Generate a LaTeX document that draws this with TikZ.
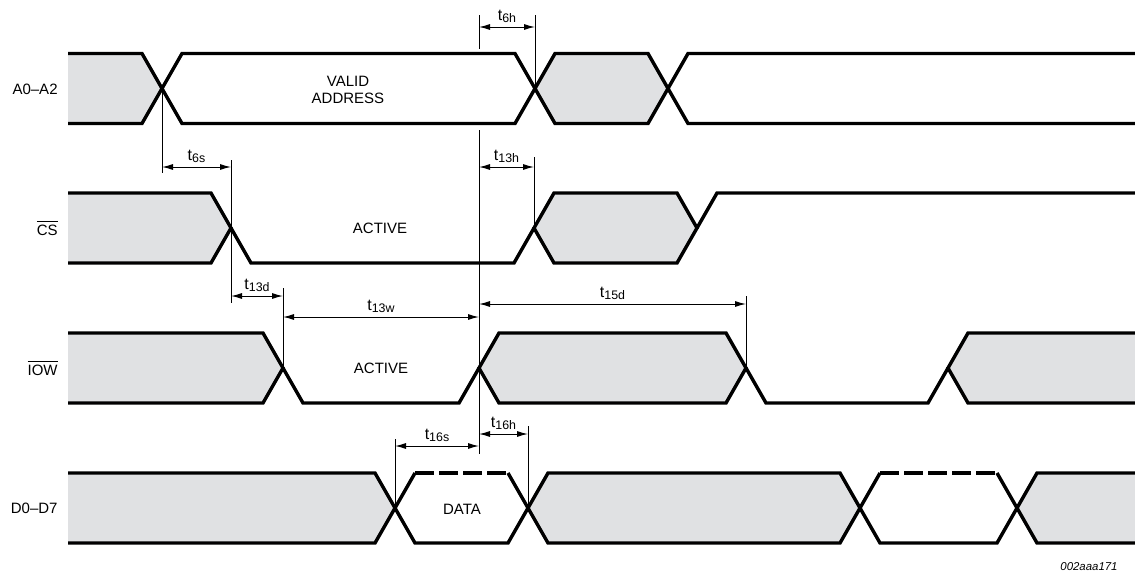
\documentclass[tikz,border=0pt]{standalone}
\usepackage{fontspec}
\setmainfont{Liberation Sans}
\usetikzlibrary{arrows.meta, calc}
\definecolor{busgray}{RGB}{224,225,227}
\newcommand{\tsub}[1]{{\fontsize{8}{9}\selectfont t}\raisebox{-0.3ex}{\fontsize{6.2}{7}\selectfont #1}}
\tikzset{
    wave/.style = {line width=1.7pt, miter limit=1.5},
    dimline/.style = {line width=0.5pt},
    dimarrow/.style = {line width=0.5pt, {Latex[length=5.5pt,width=3pt]}-{Latex[length=5.5pt,width=3pt]}},
    dimlabel/.style = {midway, above, inner sep=1.8pt},
    siglabel/.style = {anchor=east, inner sep=0pt},
    pics/bus/.style = {
        code = {%
        \coordinate (-l) at (0,0);
        \coordinate (-r) at (#1,0);
        \filldraw[wave,fill=busgray](0,0) -- (20,-35) -- (#1-20,-35) -- (#1,0) -- (#1-20,35) -- (20,35) -- cycle;
        }
    },
    pics/valid/.style = {
        code = {%
        \coordinate (-l) at (0,0);
        \coordinate (-r) at (#1,0);
        \draw[wave](0,0) -- (20,-35) -- (#1-20,-35) -- (#1,0) -- (#1-20,35) -- (20,35) -- cycle;
        }
    },
    pics/data/.style = {
        code = {%
        \coordinate (-l) at (0,0);
        \coordinate (-r) at (#1,0);
        \draw[wave](20,-35) -- (0,0) -- (20,35) -- (#1-20,35) -- (#1,0) -- (#1-20,-35);
        \draw[wave,dash pattern=on 9.5pt off 2.5pt](20,-35) -- (#1-20,-35);
        }
    },
    pics/busin/.style = {
        code = {%
        \coordinate (-r) at (0,0);
        \fill[busgray](-#1,-35) -- (-20,-35) -- (0,0) -- (-20,35) -- (-#1,35) -- cycle;
        \draw[wave](-#1,-35) -- (-20,-35) -- (0,0) -- (-20,35) -- (-#1,35);
        }
    },
    pics/busout/.style = {
        code = {%
        \coordinate (-l) at (0,0);
        \fill[busgray](#1,-35) -- (20,-35) -- (0,0) -- (20,35) -- (#1,35) -- cycle;
        \draw[wave](#1,-35) -- (20,-35) -- (0,0) -- (20,35) -- (#1,35);
        }
    },
    pics/validout/.style = {
        code = {%
        \coordinate (-l) at (0,0);
        \draw[wave](#1,-35) -- (20,-35) -- (0,0) -- (20,35) -- (#1,35);
        }
    },
}

\begin{document}
\begin{tikzpicture}[x=0.5pt,y=-0.5pt,font=\fontsize{7.5}{8.5}\selectfont]
\useasboundingbox (0,0) rectangle (1135,573);

% A0-A2
\pic(a1) at (162,88.5) {busin=94};
\pic(a2) at (162,88.5) {valid=373};
\pic(a3) at (535,88.5) {bus=133};
\pic(a4) at (668,88.5) {validout=467};
\node[siglabel] (la) at (58,89) {A0–A2};
\node[align=center] (valid) at (348,90) {VALID\\ADDRESS};

% CS
\pic(c1) at (231,228) {busin=163};
\pic(c2) at (534,228) {bus=163};
\draw[wave](c1-r) -- ++(20,35) -- ++(263,0) -- (c2-l);
\draw[wave](c2-r) -- ++(20,-35) -- ++(418,0);
\node[siglabel] (lc) at (58,228) {$\overline{\mbox{CS}}$};
\node (cact) at (380,228) {ACTIVE};

% IOW
\pic(w1) at (283,368) {busin=215};
\pic(w2) at (479,368) {bus=267};
\pic(w3) at (948,368) {busout=187};
\draw[wave](w1-r) -- ++(20,35) -- ++(156,0) -- (w2-l);
\draw[wave](w2-r) -- ++(20,35) -- ++(162,0) -- (w3-l);
\node[siglabel] (lw) at (58,368) {$\overline{\mbox{IOW}}$};
\node (wact) at (381,368) {ACTIVE};

% D0-D7
\pic(d1) at (395,508) {busin=327};
\pic(d2) at (395,508) {data=133};
\pic(d3) at (528,508) {bus=332};
\pic(d4) at (860,508) {data=157};
\pic(d5) at (1017,508) {busout=118};
\node[siglabel] (ld) at (58,508) {D0–D7};
\node (data) at (462,509) {DATA};

% extension lines
\draw[dimline](a2-l) -- (a2-l |- 0,173);
\draw[dimline](c1-r |- 0,160) -- (c1-r |- 0,303);
\draw[dimline](w1-r) -- (w1-r |- 0,288);
\draw[dimline](w2-l |- 0,130) -- (w2-l |- 0,454);
\draw[dimline](w2-l |- 0,15) -- (w2-l |- 0,49);
\draw[dimline](a3-l) -- (a3-l |- 0,15);
\draw[dimline](c2-l) -- (c2-l |- 0,157);
\draw[dimline](w2-r) -- (w2-r |- 0,296);
\draw[dimline](d2-l) -- (d2-l |- 0,439);
\draw[dimline](d3-l) -- (d3-l |- 0,426);

% timing arrows
\draw[dimarrow](w2-l |- 0,27) -- (a3-l |- 0,27) node[dimlabel]{\tsub{6h}};
\draw[dimarrow](a2-l |- 0,167) -- (c1-r |- 0,167) node[dimlabel]{\tsub{6s}};
\draw[dimarrow](w2-l |- 0,167) -- (c2-l |- 0,167) node[dimlabel]{\tsub{13h}};
\draw[dimarrow](c1-r |- 0,296) -- (w1-r |- 0,296) node[dimlabel]{\tsub{13d}};
\draw[dimarrow](w1-r |- 0,317) -- (w2-l |- 0,317) node[dimlabel]{\tsub{13w}};
\draw[dimarrow](w2-l |- 0,304) -- (w2-r |- 0,304) node[dimlabel]{\tsub{15d}};
\draw[dimarrow](d2-l |- 0,446) -- (w2-l |- 0,446) node[dimlabel]{\tsub{16s}};
\draw[dimarrow](w2-l |- 0,434) -- (d3-l |- 0,434) node[dimlabel]{\tsub{16h}};

\node[font=\fontsize{5.7}{7}\selectfont\itshape] (fig) at (1089,567) {002aaa171};
\end{tikzpicture}
\end{document}
